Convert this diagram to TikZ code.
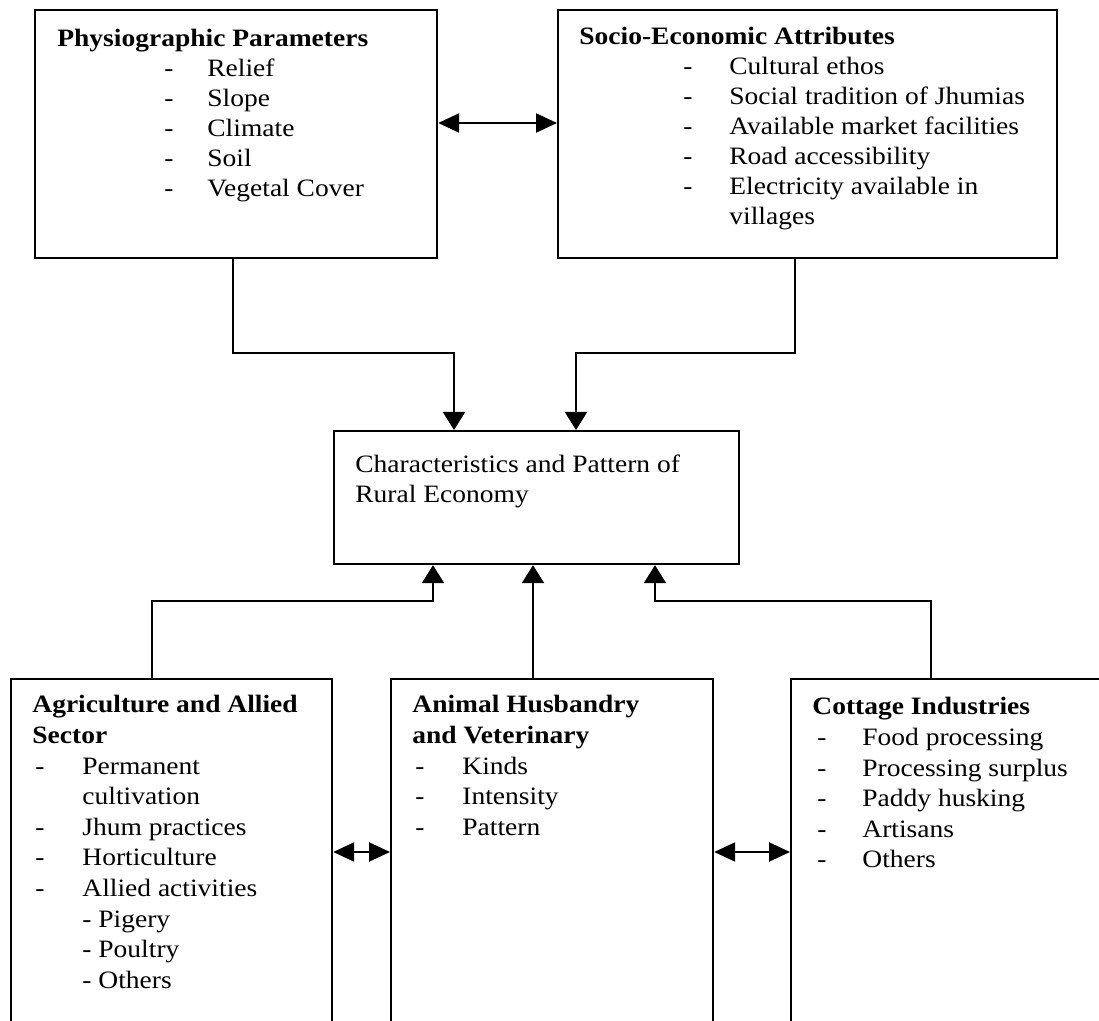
\documentclass[tikz,border=0pt]{standalone}
\usepackage{fontspec}
\setmainfont[FakeStretch=1.1]{Liberation Serif}
\usetikzlibrary{arrows.meta}
\newcommand{\dashitem}[3]{\hspace*{#1}\makebox[#2][l]{-}#3}
\newcommand{\contitem}[2]{\hspace*{#1}#2}
\begin{document}
\begin{tikzpicture}[x=0.5pt,y=-0.5pt,
  box/.style={draw, line width=1.1pt, rectangle, inner sep=0pt, anchor=north west},
  lbl/.style={anchor=base west, inner sep=0pt},
  toptxt/.style={lbl, font=\fontsize{12.5}{15}\selectfont},
  bottxt/.style={lbl, font=\fontsize{12.5}{15.3}\selectfont},
  conn/.style={line width=1.1pt, -{Triangle[length=9pt,width=11pt]}},
  both/.style={line width=1.1pt, {Triangle[length=10.5pt,width=9.5pt]}-{Triangle[length=10.5pt,width=9.5pt]}}]
\useasboundingbox (0,0) rectangle (1099,1021);
\clip (0,0) rectangle (1099,1021);

% boxes
\node[box, minimum width=201pt, minimum height=124pt] (phys) at (34,9) {};
\node[box, minimum width=249.5pt, minimum height=124pt] (socio) at (557,9) {};
\node[box, minimum width=202.5pt, minimum height=66.5pt] (rural) at (333,430) {};
\node[box, minimum width=160.5pt, minimum height=200pt] (agri) at (10,678) {};
\node[box, minimum width=161pt, minimum height=200pt] (anim) at (390,678) {};
\node[box, minimum width=175pt, minimum height=200pt] (cott) at (790,678) {};

% texts
\node[toptxt] (physT) at (57,47) {\begin{tabular}[t]{@{}l@{}}
\textbf{Physiographic Parameters}\\
\dashitem{53.5pt}{21.5pt}{Relief}\\
\dashitem{53.5pt}{21.5pt}{Slope}\\
\dashitem{53.5pt}{21.5pt}{Climate}\\
\dashitem{53.5pt}{21.5pt}{Soil}\\
\dashitem{53.5pt}{21.5pt}{Vegetal Cover}
\end{tabular}};

\node[toptxt] (socioT) at (579,45) {\begin{tabular}[t]{@{}l@{}}
\textbf{Socio-Economic Attributes}\\
\dashitem{52pt}{23pt}{Cultural ethos}\\
\dashitem{52pt}{23pt}{Social tradition of Jhumias}\\
\dashitem{52pt}{23pt}{Available market facilities}\\
\dashitem{52pt}{23pt}{Road accessibility}\\
\dashitem{52pt}{23pt}{Electricity available in}\\
\contitem{75pt}{villages}
\end{tabular}};

\node[toptxt] (ruralT) at (355,473) {\begin{tabular}[t]{@{}l@{}}
Characteristics and Pattern of\\
Rural Economy
\end{tabular}};

\node[bottxt] (agriT) at (32,713) {\begin{tabular}[t]{@{}l@{}}
\textbf{Agriculture and Allied}\\
\textbf{Sector}\\
\dashitem{1.5pt}{23.5pt}{Permanent}\\
\contitem{25pt}{cultivation}\\
\dashitem{1.5pt}{23.5pt}{Jhum practices}\\
\dashitem{1.5pt}{23.5pt}{Horticulture}\\
\dashitem{1.5pt}{23.5pt}{Allied activities}\\
\contitem{25pt}{- Pigery}\\
\contitem{25pt}{- Poultry}\\
\contitem{25pt}{- Others}
\end{tabular}};

\node[bottxt] (animT) at (412,713) {\begin{tabular}[t]{@{}l@{}}
\textbf{Animal Husbandry}\\
\textbf{and Veterinary}\\
\dashitem{1.5pt}{23.5pt}{Kinds}\\
\dashitem{1.5pt}{23.5pt}{Intensity}\\
\dashitem{1.5pt}{23.5pt}{Pattern}
\end{tabular}};

\node[bottxt] (cottT) at (812,715) {\begin{tabular}[t]{@{}l@{}}
\textbf{Cottage Industries}\\
\dashitem{2.5pt}{22.5pt}{Food processing}\\
\dashitem{2.5pt}{22.5pt}{Processing surplus}\\
\dashitem{2.5pt}{22.5pt}{Paddy husking}\\
\dashitem{2.5pt}{22.5pt}{Artisans}\\
\dashitem{2.5pt}{22.5pt}{Others}
\end{tabular}};

% connectors
\draw[both] (phys.east |- 0,123) -- (socio.west |- 0,123);
\draw[conn] (phys.south -| 233,0) -- (233,353) -| (rural.north -| 454,0);
\draw[conn] (socio.south -| 795,0) -- (795,353) -| (rural.north -| 576,0);
\draw[conn] (agri.north -| 152,0) -- (152,601) -| (rural.south -| 433,0);
\draw[conn] (anim.north -| 533,0) -- (rural.south -| 533,0);
\draw[conn] (cott.north -| 931,0) -- (931,601) -| (rural.south -| 655,0);
\draw[both] (agri.east |- 0,852) -- (anim.west |- 0,852);
\draw[both] (anim.east |- 0,852) -- (cott.west |- 0,852);
\end{tikzpicture}
\end{document}
